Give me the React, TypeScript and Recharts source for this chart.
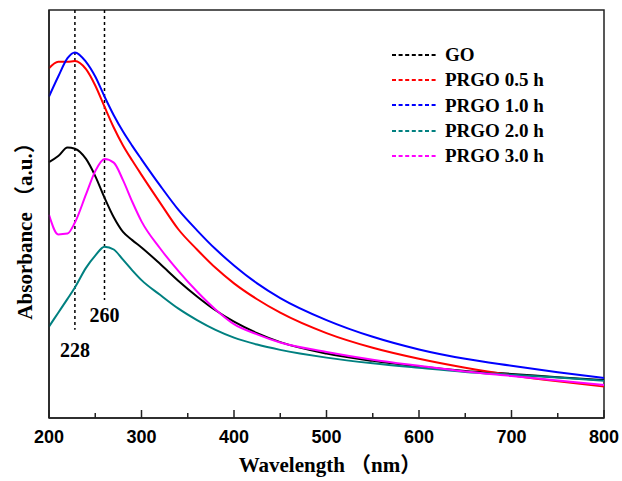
import { LineChart, Line, XAxis, YAxis, ReferenceLine, ReferenceArea, Legend } from "recharts";

// wavelength (nm)
const wavelengths = [200, 210, 220, 228, 240, 250, 260, 270, 280, 290, 300, 320, 340, 360, 380, 400, 425, 450, 500, 550, 600, 650, 700, 750, 800];

// absorbance, arbitrary units (0 = bottom of frame, 100 = top)
const go = [62.7, 64.2, 66.3, 66.0, 63.5, 59.3, 54.0, 49.2, 45.6, 43.6, 41.8, 37.8, 33.6, 29.8, 26.4, 23.6, 20.8, 18.6, 15.8, 14.0, 12.6, 11.5, 10.8, 10.0, 9.3];
const prgo05 = [85.7, 87.3, 87.3, 87.5, 85.5, 81.5, 76.3, 71.2, 66.8, 63.1, 59.6, 52.8, 46.2, 41.3, 36.8, 33.0, 29.1, 25.8, 20.8, 17.2, 14.5, 12.3, 10.5, 9.0, 7.7];
const prgo10 = [78.8, 83.7, 88.2, 89.6, 87.3, 83.7, 78.8, 74.2, 70.2, 66.7, 63.4, 57.0, 51.0, 46.0, 41.4, 37.4, 33.0, 29.4, 24.0, 19.9, 16.8, 14.5, 12.8, 11.2, 9.8];
const prgo20 = [22.4, 25.8, 29.2, 32.0, 36.8, 39.8, 42.0, 41.3, 38.8, 36.2, 33.8, 30.2, 26.8, 24.0, 21.6, 19.7, 18.0, 16.7, 14.8, 13.4, 12.3, 11.3, 10.6, 9.9, 9.1];
const prgo30 = [49.8, 45.0, 45.2, 47.9, 54.8, 60.5, 63.5, 62.6, 58.3, 53.0, 48.2, 41.6, 36.0, 31.0, 26.6, 23.0, 20.5, 18.5, 16.2, 14.3, 12.8, 11.4, 10.3, 9.2, 8.1];

const xTicks = [200, 250, 300, 350, 400, 450, 500, 550, 600, 650, 700, 750, 800];
const peaks = [
  { x: 228, bottom: 21.6 },
  { x: 260, bottom: 28.9 },
];

const series = [
  { key: "go", name: "GO", color: "#000000", values: go },
  { key: "prgo05", name: "PRGO 0.5 h", color: "#ff0000", values: prgo05 },
  { key: "prgo10", name: "PRGO 1.0 h", color: "#0000ff", values: prgo10 },
  { key: "prgo20", name: "PRGO 2.0 h", color: "#008080", values: prgo20 },
  { key: "prgo30", name: "PRGO 3.0 h", color: "#ff00ff", values: prgo30 },
];

const data = wavelengths.map((w, i) => {
  const row: Record<string, number> = { w };
  series.forEach((s) => (row[s.key] = s.values[i]));
  return row;
});

const serif = "'Liberation Serif', 'Times New Roman', 'Noto Sans CJK SC', serif";
const sans = "'Liberation Sans', Arial, sans-serif";
const frame = "#222";

function WaveTick(props: any) {
  const { x, y, payload } = props;
  const major = payload.value % 100 === 0;
  return (
    <g>
      <line x1={x} x2={x} y1={y} y2={y - (major ? 8 : 5)} stroke={frame} strokeWidth={1.5} />
      {major && (
        <text x={x} y={y + 25} textAnchor="middle" fontFamily={sans} fontWeight="bold" fontSize={18} fill="#000">
          {payload.value}
        </text>
      )}
    </g>
  );
}

function DashLegend(props: any) {
  const { payload } = props;
  return (
    <div>
      {(payload || []).map((p: any) => (
        <div key={p.value} style={{ display: "flex", alignItems: "center", height: 25.3 }}>
          <svg width={46} height={6} style={{ marginRight: 7 }}>
            <line x1={0} x2={46} y1={3} y2={3} stroke={p.color} strokeWidth={2} strokeDasharray="4 2.6" />
          </svg>
          <span style={{ fontFamily: serif, fontWeight: "bold", fontSize: 19, color: "#000", lineHeight: 1 }}>{p.value}</span>
        </div>
      ))}
    </div>
  );
}

export default function App() {
  return (
    <div style={{ position: "absolute", left: 0, top: 0, width: 622, height: 481, background: "#fff" }}>
      <LineChart width={622} height={481} data={data} margin={{ top: 10, right: 18, bottom: 33, left: 48 }}>
        <XAxis
          dataKey="w"
          type="number"
          domain={[200, 800]}
          ticks={xTicks}
          interval={0}
          height={30}
          tickSize={0}
          tickMargin={0}
          tickLine={false}
          tick={(p: any) => <WaveTick {...p} />}
          axisLine={{ stroke: frame, strokeWidth: 1.5 }}
        />
        <YAxis type="number" domain={[0, 100]} width={1} tick={false} tickLine={false} axisLine={{ stroke: frame, strokeWidth: 1.5 }} />
        <ReferenceArea x1={200} x2={800} y1={0} y2={100} fill="none" fillOpacity={0} stroke={frame} strokeWidth={1.5} />
        {peaks.map((p) => (
          <ReferenceLine
            key={p.x}
            segment={[{ x: p.x, y: 100 }, { x: p.x, y: p.bottom }]}
            stroke="#000"
            strokeWidth={1.5}
            strokeDasharray="3 3"
            label={{ value: String(p.x), position: "bottom", offset: p.x === 228 ? 13 : 8, fontFamily: serif, fontWeight: "bold", fontSize: 20, fill: "#000" }}
          />
        ))}
        {series.map((s) => (
          <Line
            key={s.key}
            type="monotone"
            dataKey={s.key}
            name={s.name}
            stroke={s.color}
            strokeWidth={2}
            dot={false}
            isAnimationActive={false}
          />
        ))}
        <Legend layout="vertical" align="center" verticalAlign="middle" content={<DashLegend />} wrapperStyle={{ left: 392, top: 42, width: 200 }} />
      </LineChart>
      <div
        style={{
          position: "absolute",
          left: 23,
          top: 226,
          transform: "translate(-50%, -50%) rotate(-90deg)",
          whiteSpace: "nowrap",
          fontFamily: serif,
          fontWeight: "bold",
          fontSize: 21,
        }}
      >
        Absorbance （a.u.）
      </div>
      <div
        style={{
          position: "absolute",
          left: 330,
          top: 466,
          transform: "translate(-50%, -50%)",
          whiteSpace: "nowrap",
          fontFamily: serif,
          fontWeight: "bold",
          fontSize: 21,
          lineHeight: 1.1,
        }}
      >
        Wavelength （nm）
      </div>
    </div>
  );
}
